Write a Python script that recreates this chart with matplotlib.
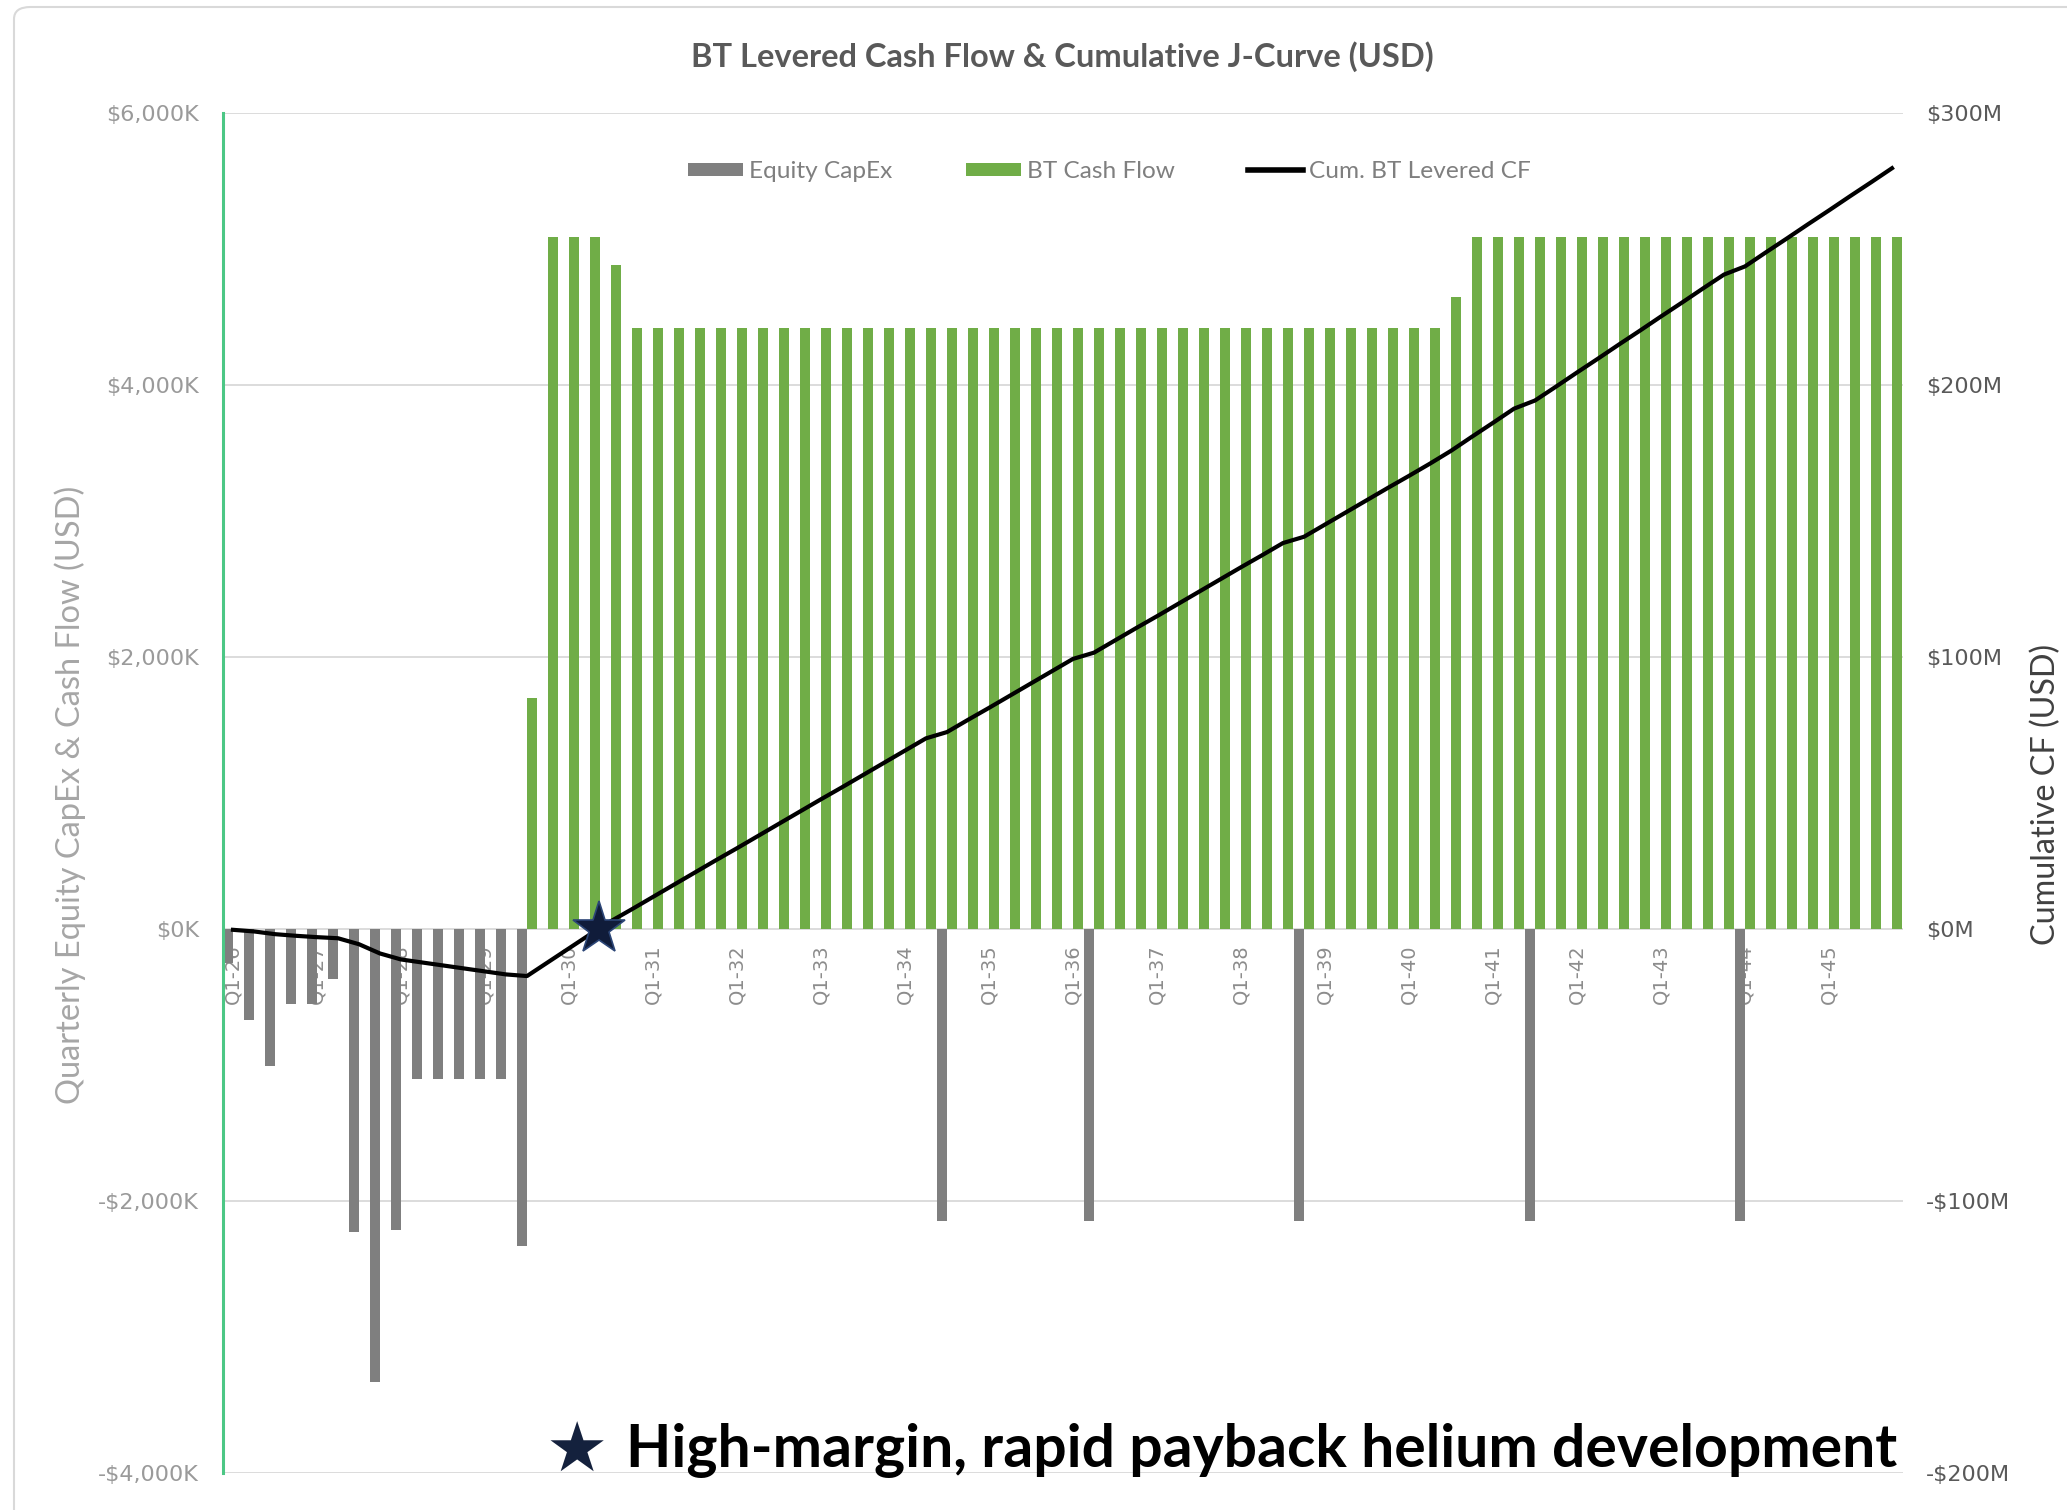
import numpy as np
import matplotlib
matplotlib.use("Agg")
import matplotlib.pyplot as plt
from matplotlib.patches import Patch, FancyBboxPatch
from matplotlib.lines import Line2D
from matplotlib.ticker import FuncFormatter, MultipleLocator

# ---- data ----
years = list(range(26, 46))
quarters = [f"Q{q}-{y}" for y in years for q in range(1, 5)]

# quarterly equity capex, $K
equity_capex = [
    -250, -670, -1010, -550, -550, -370, -2230, -3330, -2210, -1100,
    -1100, -1100, -1100, -1100, -2330, 0, 0, 0, 0, 0,
    0, 0, 0, 0, 0, 0, 0, 0, 0, 0,
    0, 0, 0, 0, -2150, 0, 0, 0, 0, 0,
    0, -2150, 0, 0, 0, 0, 0, 0, 0, 0,
    0, -2150, 0, 0, 0, 0, 0, 0, 0, 0,
    0, 0, -2150, 0, 0, 0, 0, 0, 0, 0,
    0, 0, -2150, 0, 0, 0, 0, 0, 0, 0,
]

# quarterly before-tax cash flow, $K
bt_cash_flow = [
    0, 0, 0, 0, 0, 0, 0, 0, 0, 0,
    0, 0, 0, 0, 1700, 5090, 5090, 5090, 4880, 4420,
    4420, 4420, 4420, 4420, 4420, 4420, 4420, 4420, 4420, 4420,
    4420, 4420, 4420, 4420, 4420, 4420, 4420, 4420, 4420, 4420,
    4420, 4420, 4420, 4420, 4420, 4420, 4420, 4420, 4420, 4420,
    4420, 4420, 4420, 4420, 4420, 4420, 4420, 4420, 4650, 5090,
    5090, 5090, 5090, 5090, 5090, 5090, 5090, 5090, 5090, 5090,
    5090, 5090, 5090, 5090, 5090, 5090, 5090, 5090, 5090, 5090,
]

# cumulative BT levered cash flow, $M
cum_cf = [
    -0.3, -0.9, -1.9, -2.5, -3.0, -3.4, -5.6, -9.0, -11.2, -12.3,
    -13.4, -14.5, -15.6, -16.7, -17.3, -12.2, -7.1, -2.0, 2.9, 7.3,
    11.8, 16.3, 20.8, 25.3, 29.7, 34.2, 38.7, 43.2, 47.7, 52.1,
    56.6, 61.1, 65.6, 70.1, 72.4, 76.9, 81.3, 85.8, 90.3, 94.8,
    99.3, 101.6, 106.1, 110.6, 115.0, 119.5, 124.0, 128.5, 133.0, 137.4,
    141.9, 144.2, 148.7, 153.2, 157.7, 162.2, 166.6, 171.1, 175.8, 181.0,
    186.1, 191.3, 194.3, 199.4, 204.6, 209.7, 214.9, 220.0, 225.2, 230.3,
    235.5, 240.6, 243.6, 248.8, 253.9, 259.1, 264.2, 269.4, 274.5, 279.7,
]

GRAY = "#7f7f7f"
GREEN = "#70ad47"
W, H = 2067, 1510

fig = plt.figure(figsize=(W / 100, H / 100), dpi=100)
ax = fig.add_axes([222.5 / W, 1 - 1473 / H, 1680 / W, 1360 / H])

x = np.arange(len(quarters))
bw = 0.476
ax.bar(x - bw / 2, equity_capex, width=bw, color=GRAY, zorder=2)
ax.bar(x + bw / 2, bt_cash_flow, width=bw, color=GREEN, zorder=2)

ax.set_xlim(-0.5, len(quarters) - 0.5)
ax.set_ylim(-4000, 6000)
ax.yaxis.set_major_locator(MultipleLocator(2000))
ax.yaxis.set_major_formatter(FuncFormatter(
    lambda v, _: f"-${abs(v):,.0f}K" if v < 0 else f"${v:,.0f}K"))
ax.grid(axis="y", color="#d9d9d9", lw=1.3, zorder=0)
ax.set_axisbelow(True)

for s in ("top", "right", "bottom"):
    ax.spines[s].set_visible(False)
ax.spines["left"].set_color("#4cc785")
ax.spines["left"].set_linewidth(2.2)
ax.spines["bottom"].set_position(("data", 0))
ax.tick_params(axis="y", length=0, pad=17, labelsize=16, labelcolor="#9a9a9a")
ax.set_xticks(x[::4])
ax.set_xticklabels(quarters[::4], rotation=90)
ax.tick_params(axis="x", length=0, pad=11, labelsize=14, labelcolor="#8c8c8c")

# cumulative line on the secondary axis
ax2 = ax.twinx()
ax2.plot(x, cum_cf, color="black", lw=3, zorder=3)
ax2.set_ylim(-200, 300)
ax2.yaxis.set_major_locator(MultipleLocator(100))
ax2.yaxis.set_major_formatter(FuncFormatter(
    lambda v, _: f"-${abs(v):,.0f}M" if v < 0 else f"${v:,.0f}M"))
ax2.tick_params(axis="y", length=0, pad=17, labelsize=16, labelcolor="#595959")
for s in ax2.spines.values():
    s.set_visible(False)

# payback star where the cumulative curve crosses zero
cum = np.asarray(cum_cf)
k = int(np.argmax(cum > 0))
x_pay = (k - 1) + (-cum[k - 1]) / (cum[k] - cum[k - 1])
ax2.plot([x_pay], [0], marker="*", ms=40, mfc="#101c3a", mec="#2c4677",
         mew=1.2, zorder=4)

handles = [
    Patch(facecolor=GRAY, label="Equity CapEx"),
    Patch(facecolor=GREEN, label="BT Cash Flow"),
    Line2D([], [], color="black", lw=4, label="Cum. BT Levered CF"),
]
ax2.legend(handles=handles, loc="center", bbox_to_anchor=(0.528, 0.957),
           ncol=3, frameon=False, prop={"family": "Lato", "size": 17.6},
           handlelength=2.25, handleheight=0.45, handletextpad=0.25,
           columnspacing=3.0, labelcolor="#7f7f7f")

fig.text(1062 / W, 1 - 57 / H, "BT Levered Cash Flow & Cumulative J-Curve (USD)",
         ha="center", va="center", fontsize=23.5, fontweight="bold",
         color="#595959", family="Lato")
fig.text(70 / W, 1 - 795 / H, "Quarterly Equity CapEx & Cash Flow (USD)",
         rotation=90, ha="center", va="center", fontsize=23.5,
         color="#a6a6a6", family="Lato")
fig.text(2046 / W, 1 - 794 / H, "Cumulative CF (USD)",
         rotation=90, ha="center", va="center", fontsize=23.3,
         color="#404040", family="Lato")

fig.text(577 / W, 1 - 1452 / H, "\u2605", ha="center", va="center",
         fontsize=50, color="#14213d", family="DejaVu Sans")
fig.text(626 / W, 1 - 1450 / H, "High-margin, rapid payback helium development",
         ha="left", va="center", fontsize=42.4, fontweight="bold",
         color="black", family="Lato")

# light outer chart frame (only left and top edges fall inside the image)
fig.add_artist(FancyBboxPatch((14 / W, -0.05), 1.2, 1 - 7 / H + 0.05,
                              boxstyle="round,pad=0,rounding_size=0.008",
                              transform=fig.transFigure, fc="none",
                              ec="#d9d9d9", lw=1.5))

fig.savefig("out.png", dpi=100)
